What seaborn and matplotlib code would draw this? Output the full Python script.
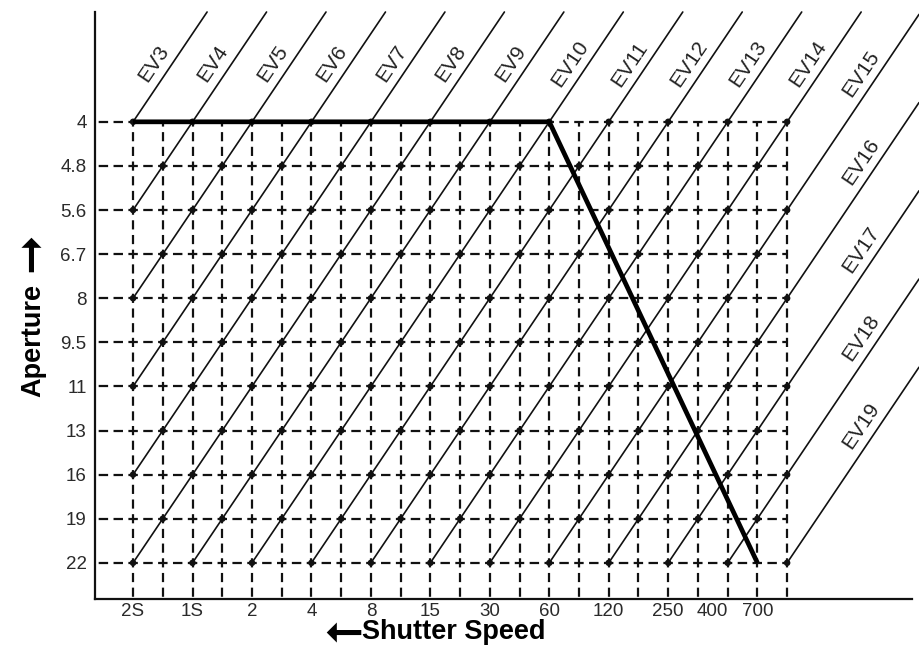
import numpy as np
import pandas as pd
import matplotlib
matplotlib.use("Agg")
import matplotlib.pyplot as plt
from matplotlib import font_manager
import seaborn as sns

# Shutter speeds along the bottom, placed in half-stop steps from 2 s
shutter_labels = ["2S", "1S", "2", "4", "8", "15", "30", "60", "120", "250", "400", "700"]
shutter_steps = [0, 2, 4, 6, 8, 10, 12, 14, 16, 18, 19.5, 21]

# Apertures down the side, in half-stop steps from f/4
aperture_labels = ["4", "4.8", "5.6", "6.7", "8", "9.5", "11", "13", "16", "19", "22"]
aperture_steps = [0, 1, 2, 3, 4, 5, 6, 7, 8, 9, 10]

# Exposure values drawn as diagonals (EV3 = 2 s at f/4)
ev_values = list(range(3, 20))

# Program line: shutter / aperture pairs it passes through
program_shutter = ["2S", "60", "700"]
program_aperture = ["4", "4", "22"]

# Half-stop shutter columns of the dashed grid
n_half_steps = 22

sns.set_theme(style="white")
available = {f.name for f in font_manager.fontManager.ttflist}
narrow = "Liberation Sans Narrow" if "Liberation Sans Narrow" in available else "Liberation Sans"
plt.rcParams["font.family"] = [narrow, "DejaVu Sans"]
plt.rcParams["lines.scale_dashes"] = False

W, H = 919, 669
fig = plt.figure(figsize=(W / 100, H / 100), dpi=100)
ax = fig.add_axes([95 / W, 70 / H, 817 / W, 587 / H])

x_lo, x_hi = -1.28, 26.2
y_top, y_bot = -2.49, 10.82
ax.set_xlim(x_lo, x_hi)
ax.set_ylim(y_bot, y_top)
x_fig_edge = x_hi + (919 - 912) / 29.73

ink = "#111111"

# dashed grid
h_dash = (3.4, (6.8, 3.9))
v_dash = (3.3, (6.6, 3.98))
for r in aperture_steps:
    ax.plot([n_half_steps, x_lo], [r, r], color=ink, lw=1.6, ls=h_dash, zorder=1)
for c in range(n_half_steps + 1):
    ax.plot([c, c], [0, y_bot], color=ink, lw=1.6, ls=v_dash, zorder=1)

# EV diagonals: shutter step + aperture step = 2 * (EV - 3)
rows = []
for ev in ev_values:
    s = 2 * (ev - 3)
    if s <= aperture_steps[-1]:
        x0, y0 = 0, s
    else:
        x0, y0 = s - aperture_steps[-1], aperture_steps[-1]
    x1 = s - y_top
    y1 = y_top
    if x1 > x_fig_edge:
        x1, y1 = x_fig_edge, s - x_fig_edge
    rows += [{"ev": ev, "x": x0, "y": y0}, {"ev": ev, "x": x1, "y": y1}]
ev_df = pd.DataFrame(rows)
n_before = len(ax.lines)
sns.lineplot(data=ev_df, x="x", y="y", units="ev", estimator=None, sort=False,
             color=ink, lw=1.2, ax=ax, zorder=2)
for ln in ax.lines[n_before:]:
    ln.set_clip_on(False)

# dots where the diagonals cross grid points
pts = [(c, r) for c in range(n_half_steps + 1) for r in aperture_steps if (c + r) % 2 == 0]
pts_df = pd.DataFrame(pts, columns=["x", "y"])
sns.scatterplot(data=pts_df, x="x", y="y", s=22, color=ink, edgecolor="none",
                marker="o", ax=ax, zorder=3)

# program line
s_pos = dict(zip(shutter_labels, shutter_steps))
a_pos = dict(zip(aperture_labels, aperture_steps))
prog_df = pd.DataFrame({"x": [s_pos[s] for s in program_shutter],
                        "y": [a_pos[a] for a in program_aperture]})
n_before = len(ax.lines)
sns.lineplot(data=prog_df, x="x", y="y", sort=False, estimator=None,
             color="black", lw=3.4, ax=ax, zorder=4)
for ln in ax.lines[n_before:]:
    ln.set_solid_joinstyle("miter")
    ln.set_solid_capstyle("butt")

# EV labels along the diagonals
p0 = ax.transData.transform((0, 0))
p1 = ax.transData.transform((1, -1))
angle = np.degrees(np.arctan2(p1[1] - p0[1], p1[0] - p0[0]))
for ev in ev_values:
    s = 2 * (ev - 3)
    c_line = min(s + 1.31, 25.1)
    r_line = s - c_line
    ax.text(c_line - 0.62, r_line, f"EV{ev}", rotation=angle, rotation_mode="anchor",
            ha="center", va="center", fontsize=15, color="#222222", zorder=5)

# axes
ax.set_xticks(shutter_steps, shutter_labels)
ax.set_yticks(aperture_steps, aperture_labels)
ax.tick_params(axis="both", length=0, labelsize=13.5, labelcolor="#2a2a2a")
ax.tick_params(axis="y", pad=6)
ax.tick_params(axis="x", pad=3)
for side in ["top", "right"]:
    ax.spines[side].set_visible(False)
for side in ["left", "bottom"]:
    ax.spines[side].set_color(ink)
    ax.spines[side].set_linewidth(1.6)

label_font = dict(family=["Liberation Sans", "DejaVu Sans"], weight="bold", size=19.5, color="black")
ax.set_xlabel("Shutter Speed", **label_font)
ax.set_ylabel("Aperture", **label_font)
ax.xaxis.set_label_coords(0.4395, -0.034)
ax.yaxis.set_label_coords(-0.06, 0.441)

# direction arrows beside the axis titles
arrow_font = dict(family=["DejaVu Sans"], weight="bold", size=34, color="black",
                  ha="center", va="center", rotation_mode="anchor")
fig.text(339 / W, 1 - 628 / H, "\u279e", rotation=180, **arrow_font)
fig.text(32 / W, 1 - 252 / H, "\u279e", rotation=90, **arrow_font)

fig.savefig("out.png", dpi=100)
